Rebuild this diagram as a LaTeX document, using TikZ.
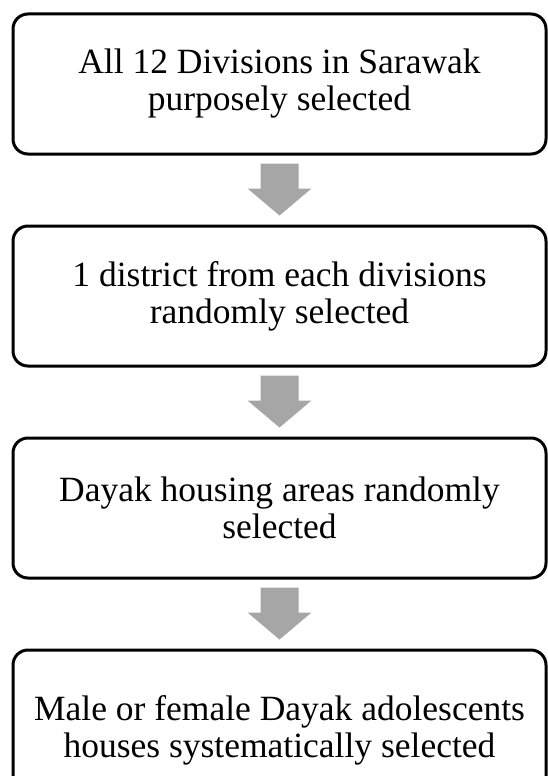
\documentclass[tikz,border=0pt]{standalone}
\usepackage{fontspec}
\setmainfont{Liberation Serif}
\usepackage{tikz}
\usetikzlibrary{positioning,calc}
\definecolor{arrowgray}{HTML}{A6A6A6}

\tikzset{
	stagebox/.style={draw,line width=3pt,rounded corners=15pt,minimum width=533pt,minimum height=140pt,align=center,inner sep=0pt,font=\fontsize{35.5}{37}\selectfont},
	downarrow/.style={fill=arrowgray,draw=none}
}

\begin{document}
\begin{tikzpicture}[x=1pt,y=1pt,node distance=69pt]
	\useasboundingbox (0,0) rectangle (548,-776);
	\node[stagebox] (b1) at (279.5,-84) {All 12 Divisions in Sarawak\\purposely selected};
	\node[stagebox,below=of b1] (b2) {1 district from each divisions\\randomly selected};
	\node[stagebox,below=of b2] (b3) {Dayak housing areas randomly\\selected};
	\node[stagebox,below=of b3,minimum height=160pt] (b4) {Male or female Dayak adolescents\\houses systematically selected};
	% block arrows between the stages
	\foreach \a/\b in {b1/b2,b2/b3,b3/b4} {
		\coordinate (\a tip) at ($(\a.south)+(0,-60)$);
		\fill[downarrow] ($(\a.south)+(-19,-8)$) -- ++(38,0) -- ++(0,-25) -- ++(13,0) -- (\a tip) -- ($(\a.south)+(-32,-33)$) -- ++(13,0) -- cycle;
	}
\end{tikzpicture}
\end{document}
